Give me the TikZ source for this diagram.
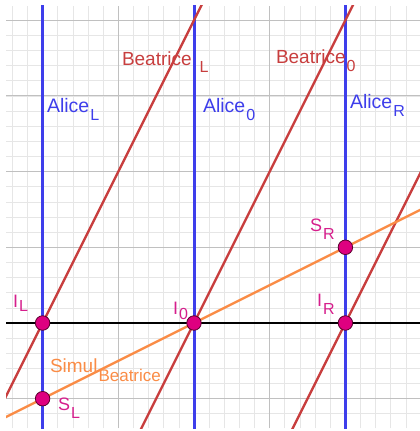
\documentclass[tikz,border=0pt]{standalone}
\usepackage{fontspec}
\setmainfont{Liberation Sans}
\definecolor{cAlice}{RGB}{62,62,235}
\definecolor{cBea}{RGB}{200,62,62}
\definecolor{cSim}{RGB}{250,140,70}
\definecolor{cPt}{RGB}{222,0,128}
\definecolor{cPtLine}{RGB}{90,0,45}
\definecolor{cPtText}{RGB}{214,30,140}
\definecolor{cMinor}{RGB}{230,230,230}
\definecolor{cMajor}{RGB}{192,192,192}
\newcommand{\mylbl}[6][1pt]{{\fontsize{#2}{#2}\selectfont #4}\kern#1{\fontsize{#3}{#3}\selectfont\raisebox{-#6pt}{#5}}}
\tikzset{
  minorgrid/.style={draw=cMinor, line width=0.7pt},
  majorgrid/.style={draw=cMajor, line width=0.9pt},
  axisline/.style={draw=black, line width=1.3pt},
  aliceline/.style={draw=cAlice, line width=3pt},
  bealine/.style={draw=cBea, line width=2.4pt},
  simline/.style={draw=cSim, line width=2.4pt},
  ptdot/.style={circle, fill=cPt, draw=cPtLine, line width=0.8pt, minimum size=14.5pt, inner sep=0pt},
  lbl/.style={anchor=base west, inner sep=0pt, outer sep=0pt},
}
\begin{document}
\begin{tikzpicture}[x=1pt, y=-1pt]
\useasboundingbox (0,0) rectangle (420,431);
\fill[white] (0,0) rectangle (420,431);
\begin{scope}[shift={(194,323)}, x=75.7pt, y=75.7pt]
  \clip (-2.483,-1.387) rectangle (2.985,4.188);
  % grid
  \foreach \k in {-12,...,14} \draw[minorgrid] (\k*0.2,-1.387) -- (\k*0.2,4.188);
  \foreach \k in {-6,...,20} \draw[minorgrid] (-2.483,\k*0.2) -- (2.985,\k*0.2);
  \foreach \k in {-2,...,2} \draw[majorgrid] (\k,-1.387) -- (\k,4.188);
  \foreach \k in {-1,...,4} \draw[majorgrid] (-2.483,\k) -- (2.985,\k);
  % coordinates
  \coordinate (axL) at (-2.6,0);
  \coordinate (axR) at (3.1,0);
  \coordinate (aLb) at (-2,-1.5); \coordinate (aLt) at (-2,4.3);
  \coordinate (a0b) at (0,-1.5);  \coordinate (a0t) at (0,4.3);
  \coordinate (aRb) at (2,-1.5);  \coordinate (aRt) at (2,4.3);
  \coordinate (bLb) at (-2.75,-1.5); \coordinate (bLt) at (0.2,4.4);
  \coordinate (b0b) at (-0.75,-1.5); \coordinate (b0t) at (2.2,4.4);
  \coordinate (bRb) at (1.25,-1.5);  \coordinate (bRt) at (4.2,4.4);
  \coordinate (sb) at (-3,-1.5); \coordinate (st) at (3.2,1.6);
  % lines
  \draw[axisline] (axL) -- (axR);
  \draw[aliceline] (aLb) -- (aLt);
  \draw[aliceline] (a0b) -- (a0t);
  \draw[aliceline] (aRb) -- (aRt);
  \draw[bealine] (bLb) -- (bLt);
  \draw[bealine] (b0b) -- (b0t);
  \draw[bealine] (bRb) -- (bRt);
  \draw[simline] (sb) -- (st);
  % points
  \node[ptdot] (IL) at (-2,0) {};
  \node[ptdot] (I0) at (0,0) {};
  \node[ptdot] (IR) at (2,0) {};
  \node[ptdot] (SL) at (-2,-1) {};
  \node[ptdot] (SR) at (2,1) {};
\end{scope}
% labels
\node[lbl, text=cAlice] (tAL) at (47,112) {\mylbl{19.5}{16}{Alice}{L}{8}};
\node[lbl, text=cAlice] (tA0) at (203,112) {\mylbl{19.5}{16}{Alice}{0}{8}};
\node[lbl, text=cAlice] (tAR) at (350,108) {\mylbl{19.5}{16}{Alice}{R}{8}};
\node[lbl, text=cBea] (tBL) at (122,65) {\mylbl[8pt]{19}{16}{Beatrice}{L}{7}};
\node[lbl, text=cBea] (tB0) at (276,63) {\mylbl{19}{16}{Beatrice}{0}{8}};
\node[lbl, text=cSim] (tSim) at (50,372) {\mylbl{19}{17}{Simul}{Beatrice}{9}};
\node[lbl, text=cPtText] (tIL) at (13,307) {\mylbl{18}{16}{I}{L}{4}};
\node[lbl, text=cPtText] (tI0) at (173,314) {\mylbl{18}{16}{I}{0}{5}};
\node[lbl, text=cPtText] (tIR) at (317,306) {\mylbl{18}{16}{I}{R}{8}};
\node[lbl, text=cPtText] (tSL) at (58,410) {\mylbl{18}{16}{S}{L}{8}};
\node[lbl, text=cPtText] (tSR) at (310,231) {\mylbl{18}{16}{S}{R}{8}};
\end{tikzpicture}
\end{document}
